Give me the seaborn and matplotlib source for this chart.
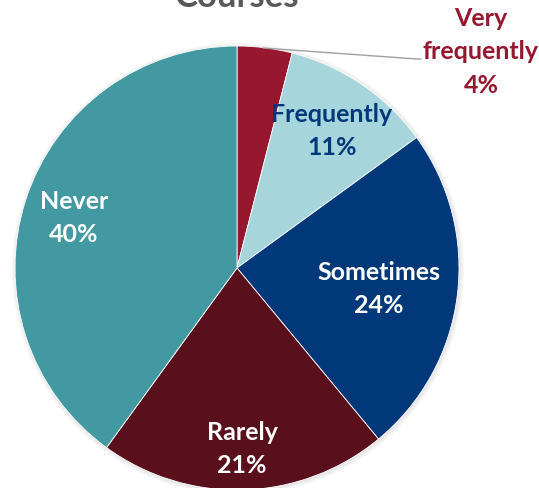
import matplotlib
matplotlib.use("Agg")
import matplotlib.pyplot as plt
import seaborn as sns

categories = ["Very\nfrequently", "Frequently", "Sometimes", "Rarely", "Never"]
values = [4, 11, 24, 21, 40]
colors = ["#97172F", "#A6D5DB", "#00387A", "#5A0F1C", "#4299A1"]
label_colors = ["#97172F", "#00387A", "white", "white", "white"]
title = "Courses"

sns.set_style("white")
plt.rcParams['font.family'] = ['Lato', 'DejaVu Sans']

fig = plt.figure(figsize=(5.39, 4.89), dpi=100)
ax = fig.add_axes([0, 0, 1, 1])

cx, cy, r = 237, 489 - 269, 222
# soft shadow
for i, a in enumerate([0.03, 0.03, 0.03]):
    circ = plt.Circle((cx + 1, cy - 1), r + 4 - i * 1.5, color="black", alpha=a, lw=0)
    ax.add_patch(circ)

wedges, _ = ax.pie(values, colors=colors, startangle=90, counterclock=False,
                   center=(cx, cy), radius=r, frame=True,
                   wedgeprops=dict(edgecolor="white", linewidth=0.6))
ax.set_xlim(0, 539)
ax.set_ylim(0, 489)
ax.set_aspect("equal")
ax.axis("off")

label_pos = [(481, 52), (332, 131), (379, 289), (242, 449), (74, 218)]
for cat, v, (x, y), c in zip(categories, values, label_pos, label_colors):
    ax.text(x, 489 - y, f"{cat}\n{v}%", ha="center", va="center", color=c,
            fontsize=18, fontweight="bold", linespacing=1.55)

# leader line for the small slice
ax.plot([263, 417, 421], [489 - 49, 489 - 60, 489 - 60], color="#A0A0A0", lw=1)

ax.text(237, 489 - 7, title, ha="center", va="baseline", fontsize=25,
        fontweight="bold", color="#595959")

fig.savefig("out.png", dpi=100)
